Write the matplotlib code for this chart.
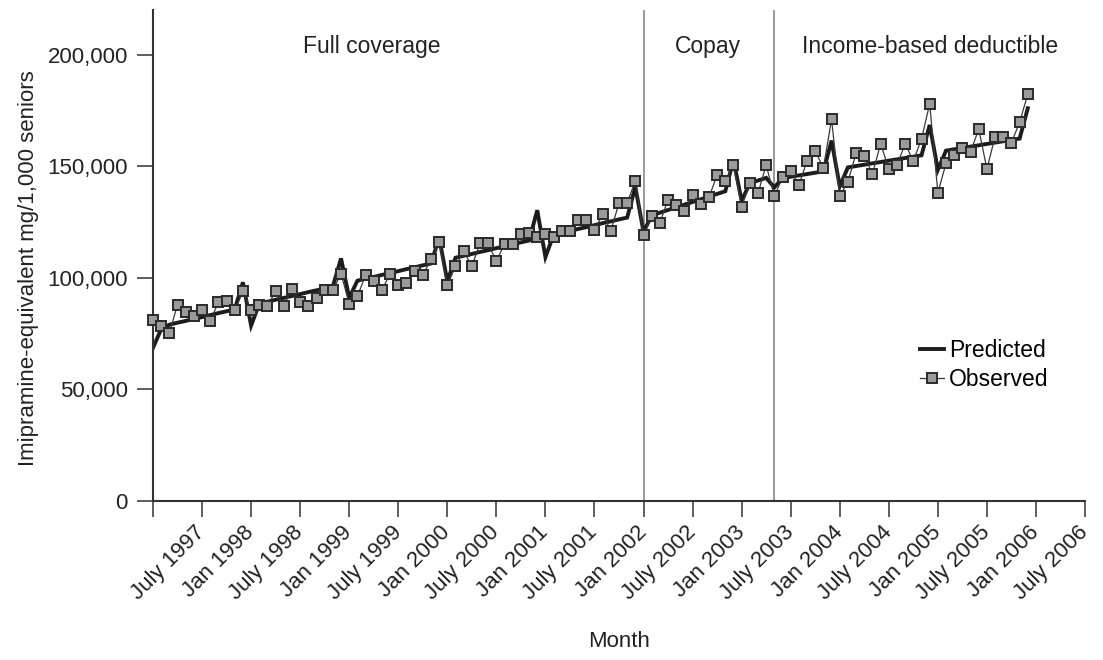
import matplotlib
matplotlib.use("Agg")
import matplotlib.pyplot as plt
import matplotlib.transforms as mtransforms
import numpy as np

plt.rcParams["font.family"] = ["Liberation Sans", "DejaVu Sans"]

# Monthly values, Jan 1997 .. Dec 2005 (imipramine-equivalent mg / 1,000 seniors, in thousands)
observed = [
    81.3, 78.6, 75.2, 88.0, 84.6, 82.7, 85.4, 80.6, 89.1, 89.6, 85.4, 93.9,
    85.4, 87.9, 87.6, 93.9, 87.6, 95.1, 89.1, 87.6, 91.1, 94.4, 94.4, 101.9,
    88.4, 91.7, 101.1, 98.6, 94.4, 101.9, 96.6, 97.7, 103.1, 101.1, 108.3, 116.1,
    96.6, 105.2, 111.9, 105.2, 115.4, 115.4, 107.4, 115.3, 115.3, 119.5, 120.3, 118.3,
    119.8, 118.3, 121.0, 121.0, 125.8, 125.8, 121.3, 128.5, 121.0, 133.6, 133.6, 143.5,
    119.1, 127.6, 124.6, 135.1, 132.6, 130.0, 137.1, 133.2, 136.0, 146.1, 143.4, 150.6,
    131.8, 142.3, 137.8, 150.6, 136.6, 145.0, 148.0, 141.6, 152.4, 156.9, 149.1, 171.1,
    136.6, 143.1, 155.8, 154.8, 146.5, 160.1, 148.8, 150.6, 160.0, 152.4, 162.2, 178.0,
    138.1, 151.3, 155.1, 158.3, 156.5, 166.6, 148.8, 163.3, 163.3, 160.6, 169.7, 182.3,
]
predicted = [
    68.6, 77.0, 79.0, 79.9, 80.7, 81.6, 82.4, 83.3, 84.2, 85.0, 85.9, 98.0,
    78.6, 88.4, 89.3, 90.2, 91.0, 91.9, 92.7, 93.6, 94.4, 95.3, 96.2, 108.7,
    91.0, 98.7, 99.6, 100.4, 101.3, 102.1, 103.0, 103.9, 104.7, 105.6, 106.4, 118.0,
    98.5, 109.0, 109.9, 110.7, 111.6, 112.4, 113.3, 114.1, 115.0, 115.9, 116.7, 130.3,
    109.3, 119.3, 120.2, 121.0, 121.9, 122.7, 123.6, 124.5, 125.3, 126.2, 127.0, 140.8,
    120.5, 128.0, 129.2, 130.4, 131.6, 132.8, 134.0, 135.2, 136.4, 137.6, 138.8, 152.8,
    134.5, 142.4, 143.6, 144.8, 140.5, 144.7, 145.3, 145.9, 146.5, 147.1, 147.7, 161.5,
    141.0, 149.5, 150.1, 150.7, 151.3, 151.9, 152.5, 153.1, 153.7, 154.3, 154.9, 168.5,
    148.4, 157.0, 157.6, 158.2, 158.8, 159.4, 160.0, 160.6, 161.2, 161.8, 162.4, 176.0,
]
tick_labels = [
    "", "July 1997", "Jan 1998", "July 1998", "Jan 1999", "July 1999",
    "Jan 2000", "July 2000", "Jan 2001", "July 2001", "Jan 2002",
    "July 2002", "Jan 2003", "July 2003", "Jan 2004", "July 2004",
    "Jan 2005", "July 2005", "Jan 2006", "July 2006",
]
policy_changes = [60, 75.9]  # months since Jan 1997
phase_names = ["Full coverage", "Copay", "Income-based deductible"]
phase_centers = [26.8, 67.9, 95.0]

months = np.arange(len(observed))
obs = np.array(observed) * 1000
pred = np.array(predicted) * 1000

fig = plt.figure(figsize=(11.03, 6.6), dpi=100)
ax = fig.add_axes([0.1387, 0.2409, 0.8450, 0.7439])

for m in policy_changes:
    ax.axvline(m, color="#9a9a9a", lw=1.4, zorder=1)

ax.plot(months, pred, color="#1c1c1c", lw=2.8, zorder=2, label="Predicted",
        solid_joinstyle="miter")
ax.plot(months, obs, color="#3a3a3a", lw=0.9, marker="s", markersize=7.4,
        markerfacecolor="#9b9b9b", markeredgecolor="#2a2a2a",
        markeredgewidth=1.4, zorder=3, clip_on=False, label="Observed")

for name, c in zip(phase_names, phase_centers):
    ax.text(c, 203500, name, ha="center", va="center", fontsize=16.5,
            color="#222222")

ax.set_xlim(0, 114)
ax.set_ylim(0, 220000)
ax.set_xticks(np.arange(0, 115, 6))
ax.set_xticklabels(tick_labels, rotation=45, ha="right", va="center",
                   rotation_mode="anchor", fontsize=16)
shift = mtransforms.ScaledTranslation(5 / 72, 0, fig.dpi_scale_trans)
for lab in ax.get_xticklabels():
    lab.set_transform(lab.get_transform() + shift)
ax.set_yticks(np.arange(0, 200001, 50000))
ax.set_yticklabels([f"{v:,}" for v in range(0, 200001, 50000)], fontsize=16)

for side in ["top", "right"]:
    ax.spines[side].set_visible(False)
for side in ["left", "bottom"]:
    ax.spines[side].set_color("#333333")
    ax.spines[side].set_linewidth(1.5)
ax.tick_params(axis="both", direction="out", length=11.5, width=1.1,
               color="#333333", labelcolor="#222222")
ax.tick_params(axis="y", pad=6.5)
ax.tick_params(axis="x", pad=9)

ax.set_xlabel("Month", fontsize=16, color="#222222")
ax.set_ylabel("Imipramine-equivalent mg/1,000 seniors", fontsize=16,
              color="#222222")
ax.xaxis.set_label_coords(0.5, -0.287)
ax.xaxis.label.set_va("center")
ax.yaxis.set_label_coords(-0.134, 0.4745)
ax.yaxis.label.set_va("center")

ax.legend(loc="center left", bbox_to_anchor=(920 / 1103, 1 - 365 / 660),
          bbox_transform=fig.transFigure, frameon=False, fontsize=16.5,
          handlelength=1.05, handletextpad=0.2, labelspacing=0.3,
          borderpad=0, borderaxespad=0, numpoints=1)

fig.savefig("out.png", dpi=100)
